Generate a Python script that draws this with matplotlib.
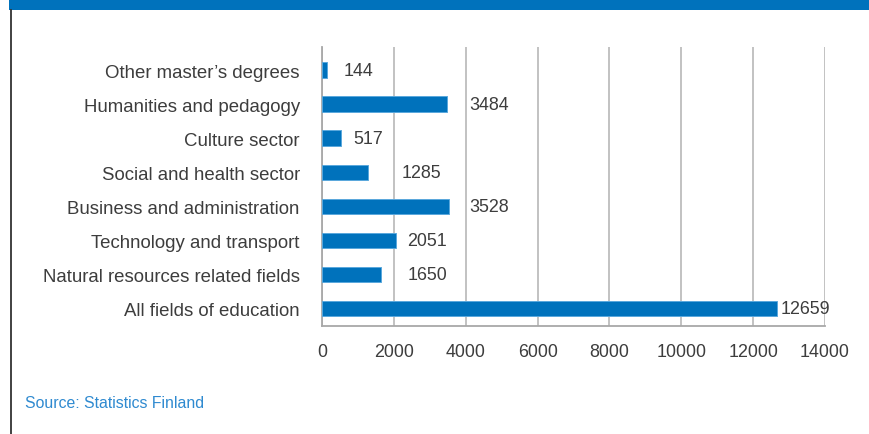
import matplotlib
matplotlib.use("Agg")
import matplotlib.pyplot as plt
from matplotlib.patches import Rectangle
from matplotlib.lines import Line2D

plt.rcParams['font.family'] = ['Liberation Sans', 'DejaVu Sans']

# Degrees by field of education (bottom to top)
fields = [
    "All fields of education",
    "Natural resources related fields",
    "Technology and transport",
    "Business and administration",
    "Social and health sector",
    "Culture sector",
    "Humanities and pedagogy",
    "Other master\u2019s degrees",
]
counts = [12659, 1650, 2051, 3528, 1285, 517, 3484, 144]
# where each value label starts, in data units
label_x = [12770, 2390, 2360, 4085, 2225, 860, 4085, 590]
xticks = [0, 2000, 4000, 6000, 8000, 10000, 12000, 14000]

BLUE = "#0072bc"
TEXT = "#3d3d3d"
GRID = "#bdbdbd"
FS = 12.9

fig = plt.figure(figsize=(8.69, 4.35), dpi=100)
W, H = 869, 435

# blue band at the top and dark rule on the left
fig.patches.append(Rectangle((9 / W, 1 - 11 / H), 1, 11 / H, transform=fig.transFigure,
                             facecolor=BLUE, edgecolor="none"))
fig.lines.append(Line2D([10.5 / W, 10.5 / W], [0, 1 - 11 / H], transform=fig.transFigure,
                        color="#333333", linewidth=1.3))

ax = fig.add_axes([322 / W, 1 - 327 / H, (825 - 322) / W, (327 - 48) / H])
ypos = list(range(len(fields)))
ax.barh(ypos, counts, height=0.46, color=BLUE, edgecolor="#5aa8dc", linewidth=0.7, zorder=3)

for y, v, lx in zip(ypos, counts, label_x):
    ax.text(lx, y, f"{v}", va="center", ha="left", fontsize=FS, color=TEXT, zorder=4)

ax.set_xlim(0, 14000)
ax.set_ylim(-0.51, 7.68)
ax.set_xticks(xticks)
ax.set_xticklabels([str(t) for t in xticks])
ax.set_yticks(ypos)
ax.set_yticklabels(fields)
ax.tick_params(axis="both", length=0, labelsize=FS, colors=TEXT)
ax.tick_params(axis="y", labelsize=13.4, pad=16)
ax.tick_params(axis="x", pad=12)
ax.xaxis.grid(True, color=GRID, linewidth=1.3, zorder=0)
ax.set_axisbelow(True)
for side in ["top", "right"]:
    ax.spines[side].set_visible(False)
for side in ["left", "bottom"]:
    ax.spines[side].set_color("#a8a8a8")
    ax.spines[side].set_linewidth(1.3)

fig.text(25 / W, 1 - 404 / H, "Source: Statistics Finland", fontsize=11.4,
         color="#2f8ad0", va="center", ha="left")

fig.savefig("out.png", dpi=100)
